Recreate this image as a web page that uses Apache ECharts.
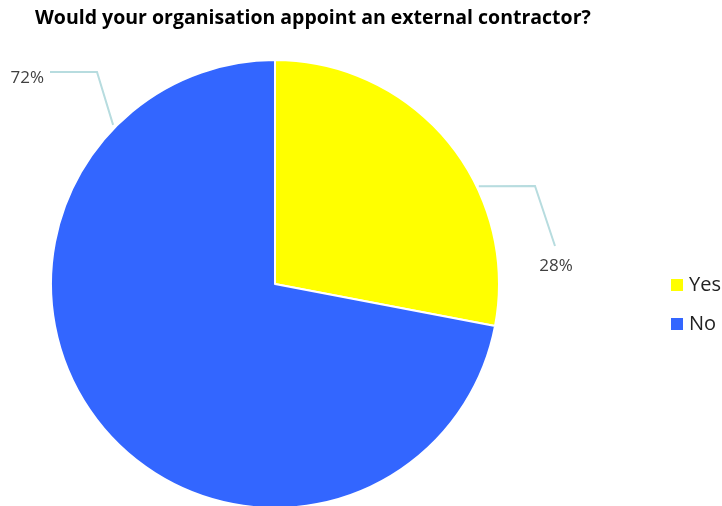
<!DOCTYPE html>
<html><head><meta charset="utf-8">
<script src="https://cdn.jsdelivr.net/npm/echarts@6/dist/echarts.min.js"></script>
<style>html,body{margin:0;padding:0;background:#fff}#c{width:722px;height:506px}</style>
</head><body><div id="c"></div>
<script>
const titleText = 'Would your organisation appoint an external contractor?';
const categories = ['Yes', 'No'];
const values = [28, 72];
const colors = ['#FFFF00', '#3366FF'];

const CX = 275, CY = 284, R = 224;
function edge(angDeg, r) {
  const a = angDeg * Math.PI / 180;
  return [CX + r * Math.sin(a), CY - r * Math.cos(a)];
}
// custom leader lines (angle on rim, elbow, end) like the reference
const guides = [
  { start: edge(64.4, 226), elbow: [535, 186], end: [555, 246], label: [556, 266], align: 'center' },
  { start: edge(314.5, 227), elbow: [97, 72], end: [50, 72], label: [44, 78], align: 'right' }
];

const chart = echarts.init(document.getElementById('c'));
chart.setOption({
  animation: false,
  title: {
    text: titleText, left: 30, top: 3,
    textStyle: { fontFamily: 'Open Sans', fontWeight: 'bold', fontSize: 19.5, color: '#000' }
  },
  legend: {
    orient: 'vertical', left: 664, top: 270, itemWidth: 14, itemHeight: 14, itemGap: 19,
    icon: 'rect', data: categories,
    textStyle: { fontFamily: 'Open Sans', fontSize: 20, color: '#222', padding: [0, 0, 0, 0] }
  },
  series: [{
    type: 'pie', center: [CX, CY], radius: R, startAngle: 90, clockwise: true,
    data: categories.map((c, i) => ({ name: c, value: values[i], itemStyle: { color: colors[i] } })),
    itemStyle: { borderColor: '#fff', borderWidth: 2 },
    label: { show: true, position: 'outside', formatter: p => p.value + '%',
      fontFamily: 'Open Sans', fontSize: 17, color: '#404040' },
    labelLine: { show: true, length: 20, length2: 20, smooth: false,
      lineStyle: { color: '#B7DCDF', width: 2 } },
    labelLayout: function (p) {
      const g = guides[p.dataIndex];
      return {
        x: g.label[0], y: g.label[1], align: g.align, verticalAlign: 'middle',
        labelLinePoints: [g.start, g.elbow, g.end]
      };
    }
  }]
});
</script></body></html>
